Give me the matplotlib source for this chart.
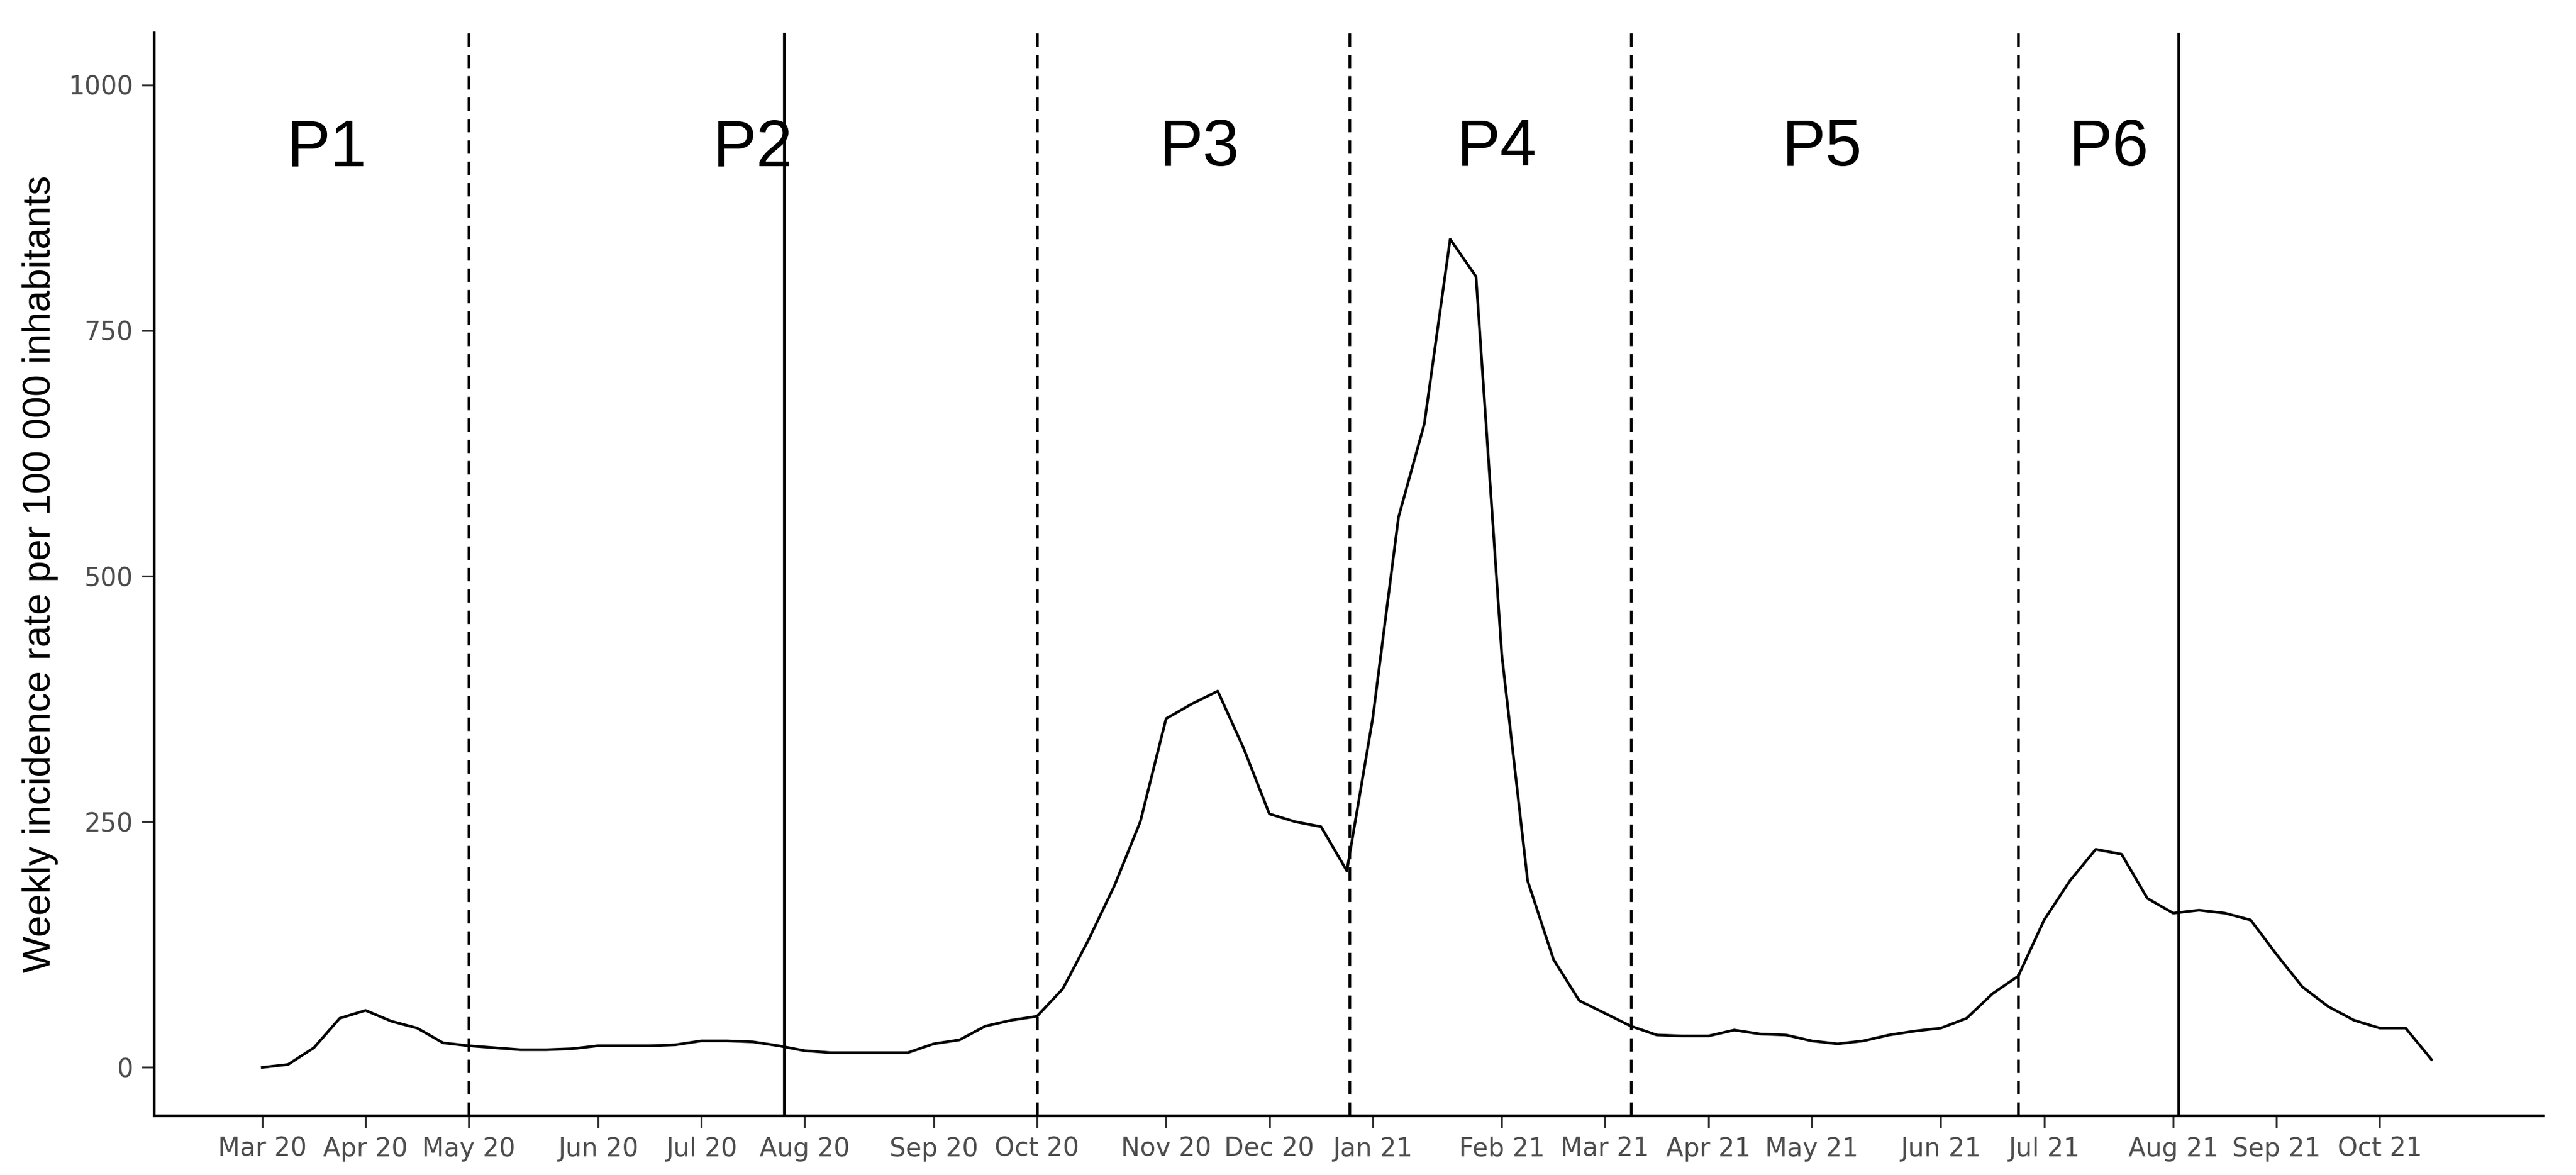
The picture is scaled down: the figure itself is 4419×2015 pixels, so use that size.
import matplotlib
matplotlib.use("Agg")
import matplotlib.pyplot as plt

weeks = list(range(0, 85))
values = [0, 3, 20, 50, 58, 47, 40, 25, 22, 20, 18, 18, 19, 22, 22, 22, 23, 27, 27, 26, 22, 17, 15, 15, 15, 15, 24, 28, 42, 48, 52,
          80, 130, 185, 250, 355, 370, 383, 325, 258, 250, 245, 200, 355, 560, 655, 843, 805, 420, 190, 110, 68, 55, 42, 33,
          32, 32, 38, 34, 33, 27, 24, 27, 33, 37, 40, 50, 75, 93, 150, 190, 222, 217, 172, 157, 160, 157, 150, 115, 82, 62,
          48, 40, 40, 8]
tick_weeks = [0, 4, 8, 13, 17, 21, 26, 30, 35, 39, 43, 48, 52, 56, 60, 65, 69, 74, 78, 82]
tick_labels = ["Mar 20", "Apr 20", "May 20", "Jun 20", "Jul 20", "Aug 20", "Sep 20", "Oct 20", "Nov 20", "Dec 20",
               "Jan 21", "Feb 21", "Mar 21", "Apr 21", "May 21", "Jun 21", "Jul 21", "Aug 21", "Sep 21", "Oct 21"]
dashed_lines = [8, 30, 42.1, 53, 68]
solid_lines = [20.2, 74.2]
period_labels = ["P1", "P2", "P3", "P4", "P5", "P6"]
period_x = [2.5, 19, 36.3, 47.8, 60.4, 71.5]

fig = plt.figure(figsize=(14.73, 6.717), dpi=300)
ax = fig.add_axes([0.0597, 0.0506, 0.9273, 0.9214])
ax.plot(weeks[:len(values)], values, color="black", lw=1.1)
for x in dashed_lines:
    ax.axvline(x, color="black", lw=1.1, ls=(0, (5, 3)))
for x in solid_lines:
    ax.axvline(x, color="black", lw=1.1)
for t, x in zip(period_labels, period_x):
    ax.text(x, 935, t, fontsize=27, ha="center", va="center", family="Liberation Sans")
ax.set_xlim(-4.2, 88.3)
ax.set_ylim(-49, 1053)
ax.set_xticks(tick_weeks)
ax.set_xticklabels(tick_labels, family=["Liberation Sans Narrow", "DejaVu Sans"], fontsize=10.5, color="#4D4D4D")
ax.set_yticks([0, 250, 500, 750, 1000])
ax.set_yticklabels(["0", "250", "500", "750", "1000"], family=["Liberation Sans Narrow", "DejaVu Sans"], fontsize=10.5, color="#4D4D4D")
ax.set_ylabel("Weekly incidence rate per 100 000 inhabitants", fontsize=16, family="Liberation Sans")
for s in ["top", "right"]:
    ax.spines[s].set_visible(False)
ax.spines["left"].set_linewidth(1.1)
ax.spines["bottom"].set_linewidth(1.1)
ax.tick_params(length=5, width=0.8, color="#333333")
fig.savefig("out.png", dpi=300)
